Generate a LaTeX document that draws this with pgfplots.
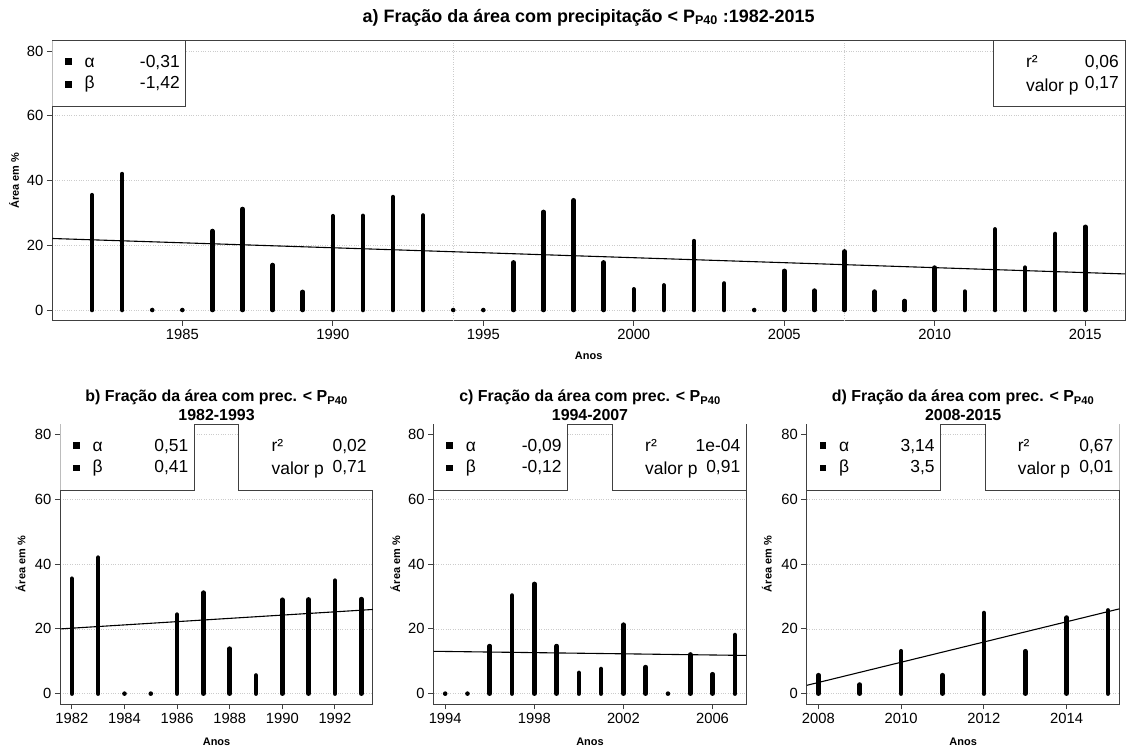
\documentclass[border=0pt]{standalone}
\usepackage{fontspec}
\setmainfont{Liberation Sans}
\usepackage{pgfplots}
\usepackage{pgfplotstable}
\pgfplotsset{compat=1.18}

\pgfplotstableread{
year val
1982 35.5
1983 42.0
1984 0
1985 0
1986 24.4
1987 31.2
1988 13.9
1989 5.6
1990 29.0
1991 29.1
1992 34.9
1993 29.2
}\datab
\pgfplotstableread{
year val
1994 0
1995 0
1996 14.7
1997 30.3
1998 33.9
1999 14.7
2000 6.4
2001 7.6
2002 21.3
2003 8.2
2004 0
2005 12.1
2006 6.0
2007 18.1
}\datac
\pgfplotstableread{
year val
2008 5.7
2009 2.8
2010 13.1
2011 5.7
2012 24.9
2013 13.1
2014 23.5
2015 25.7
}\datad

\newcommand{\legfont}{\fontsize{17.5}{20}\selectfont}
% x positions are years minus 1980
% #1 xmin, #2 left box right edge, #3 right box left edge, #4 xmax, #5 alpha, #6 beta, #7 r2, #8 p
\newcommand{\rlegend}[8]{%
  \fill[white] (axis cs:#1,62.9) rectangle (axis cs:#2,83.2);
  \fill[white] (axis cs:#3,62.9) rectangle (axis cs:#4,83.2);
  \draw[black!75, line width=0.9bp] (axis cs:#2,83.2) -- (axis cs:#2,62.9) -- (axis cs:#1,62.9);
  \draw[black!75, line width=0.9bp] (axis cs:#3,83.2) -- (axis cs:#3,62.9) -- (axis cs:#4,62.9);
  \node[anchor=base west, inner sep=0pt, font=\legfont] at ([xshift=12.6bp,yshift=-27bp]axis cs:#1,83.2) {\rule[2.6bp]{6.8bp}{6.8bp}};
  \node[anchor=base west, inner sep=0pt, font=\legfont] at ([xshift=12.6bp,yshift=-48bp]axis cs:#1,83.2) {\rule[0.9bp]{6.8bp}{6.8bp}};
  \node[anchor=base west, inner sep=0pt, font=\legfont] at ([xshift=32bp,yshift=-27bp]axis cs:#1,83.2) {α};
  \node[anchor=base west, inner sep=0pt, font=\legfont] at ([xshift=32bp,yshift=-48bp]axis cs:#1,83.2) {β};
  \node[anchor=base east, inner sep=0pt, font=\legfont] at ([xshift=-6bp,yshift=-27bp]axis cs:#2,83.2) {#5};
  \node[anchor=base east, inner sep=0pt, font=\legfont] at ([xshift=-6bp,yshift=-48bp]axis cs:#2,83.2) {#6};
  \node[anchor=base west, inner sep=0pt, font=\legfont] at ([xshift=32.5bp,yshift=-27bp]axis cs:#3,83.2) {r²};
  \node[anchor=base west, inner sep=0pt, font=\legfont] at ([xshift=32.5bp,yshift=-50.5bp]axis cs:#3,83.2) {valor p};
  \node[anchor=base east, inner sep=0pt, font=\legfont] at ([xshift=-6bp,yshift=-27bp]axis cs:#4,83.2) {#7};
  \node[anchor=base east, inner sep=0pt, font=\legfont] at ([xshift=-6bp,yshift=-48bp]axis cs:#4,83.2) {#8};
}

\pgfplotsset{
  rstyle/.style={
    scale only axis,
    axis line style={black!75, line width=0.9bp},
    tick style={black!75, line width=0.9bp},
    tick align=outside, major tick length=5.5bp,
    xtick pos=left, ytick pos=left,
    ymin=-3.2, ymax=83.2, ytick={0,20,40,60,80},
    ymajorgrids, grid style={dotted, black!20, line width=0.7bp},
    tick label style={font=\fontsize{14.8}{16}\selectfont},
    /pgf/number format/assume math mode=true,
    /pgf/number format/1000 sep={},
    xlabel={Anos}, ylabel={Área em \%},
    label style={font=\bfseries\fontsize{11}{13}\selectfont},
    title style={font=\bfseries\fontsize{16}{19}\selectfont, align=center, anchor=center},
  },
  bars/.style={ycomb, black, line width=4.6bp, line cap=round, mark=*, mark size=1.8bp, mark options={line width=0.1bp}},
  trend/.style={black, line width=1.1bp},
}

\begin{document}
\begin{tikzpicture}
\path[use as bounding box] (0bp,0bp) rectangle (1127bp,749bp);

% Panel a
\begin{axis}[rstyle, at={(52.3bp,428.6bp)}, anchor=south west, width=1072.7bp, height=279.7bp,
  xmin=0.68, xmax=36.32, xtick={5,10,15,20,25,30,35},
  xticklabels={1985,1990,1995,2000,2005,2010,2015},
  extra x ticks={14,27}, extra x tick labels={},
  extra x tick style={xmajorgrids=true, major tick length=0pt},
  title={a) Fração da área com precipitação < P\textsubscript{P40} :1982-2015},
  title style={font=\bfseries\fontsize{18}{20}\selectfont, at={(axis description cs:0.5,1.062)}},
  xlabel style={at={(axis description cs:0.5,-0.125)}, anchor=center},
  ylabel style={at={(axis description cs:-0.0357,0.5)}, anchor=center},
]
\addplot[bars] table[x expr=\thisrow{year}-1980,y=val] {\datab};
\addplot[bars] table[x expr=\thisrow{year}-1980,y=val] {\datac};
\addplot[bars] table[x expr=\thisrow{year}-1980,y=val] {\datad};
\addplot[trend] coordinates {(0.68,22.1) (36.32,11.15)};
\rlegend{0.68}{5.12}{31.95}{36.32}{-0,31}{-1,42}{0,06}{0,17}
\end{axis}

% Panel b
\begin{axis}[rstyle, at={(60.3bp,45bp)}, anchor=south west, width=312.5bp, height=279.7bp,
  xmin=1.56, xmax=13.44, xtick={2,4,6,8,10,12},
  xticklabels={1982,1984,1986,1988,1990,1992},
  title={b) Fração da área com prec. < P\textsubscript{P40}\\1982-1993},
  title style={at={(axis description cs:0.5,1.046)}},
  xlabel style={at={(axis description cs:0.5,-0.135)}, anchor=center},
  ylabel style={at={(axis description cs:-0.127,0.5)}, anchor=center},
]
\addplot[bars] table[x expr=\thisrow{year}-1980,y=val] {\datab};
\addplot[trend] coordinates {(1.56,20.0) (13.44,26.0)};
\rlegend{1.56}{6.66}{8.35}{13.44}{0,51}{0,41}{0,02}{0,71}
\end{axis}

% Panel c
\begin{axis}[rstyle, at={(433.6bp,45bp)}, anchor=south west, width=312.8bp, height=279.7bp,
  xmin=13.48, xmax=27.52, xtick={14,18,22,26},
  xticklabels={1994,1998,2002,2006},
  title={c) Fração da área com prec. < P\textsubscript{P40}\\1994-2007},
  title style={at={(axis description cs:0.5,1.046)}},
  xlabel style={at={(axis description cs:0.5,-0.135)}, anchor=center},
  ylabel style={at={(axis description cs:-0.122,0.5)}, anchor=center},
]
\addplot[bars] table[x expr=\thisrow{year}-1980,y=val] {\datac};
\addplot[trend] coordinates {(13.48,13.08) (27.52,11.8)};
\rlegend{13.48}{19.50}{21.51}{27.52}{-0,09}{-0,12}{1e-04}{0,91}
\end{axis}

% Panel d
\begin{axis}[rstyle, at={(806.8bp,45bp)}, anchor=south west, width=312.7bp, height=279.7bp,
  xmin=27.72, xmax=35.28, xtick={28,30,32,34},
  xticklabels={2008,2010,2012,2014},
  title={d) Fração da área com prec. < P\textsubscript{P40}\\2008-2015},
  title style={at={(axis description cs:0.5,1.046)}},
  xlabel style={at={(axis description cs:0.5,-0.135)}, anchor=center},
  ylabel style={at={(axis description cs:-0.128,0.5)}, anchor=center},
]
\addplot[bars] table[x expr=\thisrow{year}-1980,y=val] {\datad};
\addplot[trend] coordinates {(27.72,2.57) (35.28,26.2)};
\rlegend{27.72}{30.96}{32.03}{35.28}{3,14}{3,5}{0,67}{0,01}
\end{axis}
\end{tikzpicture}
\end{document}
